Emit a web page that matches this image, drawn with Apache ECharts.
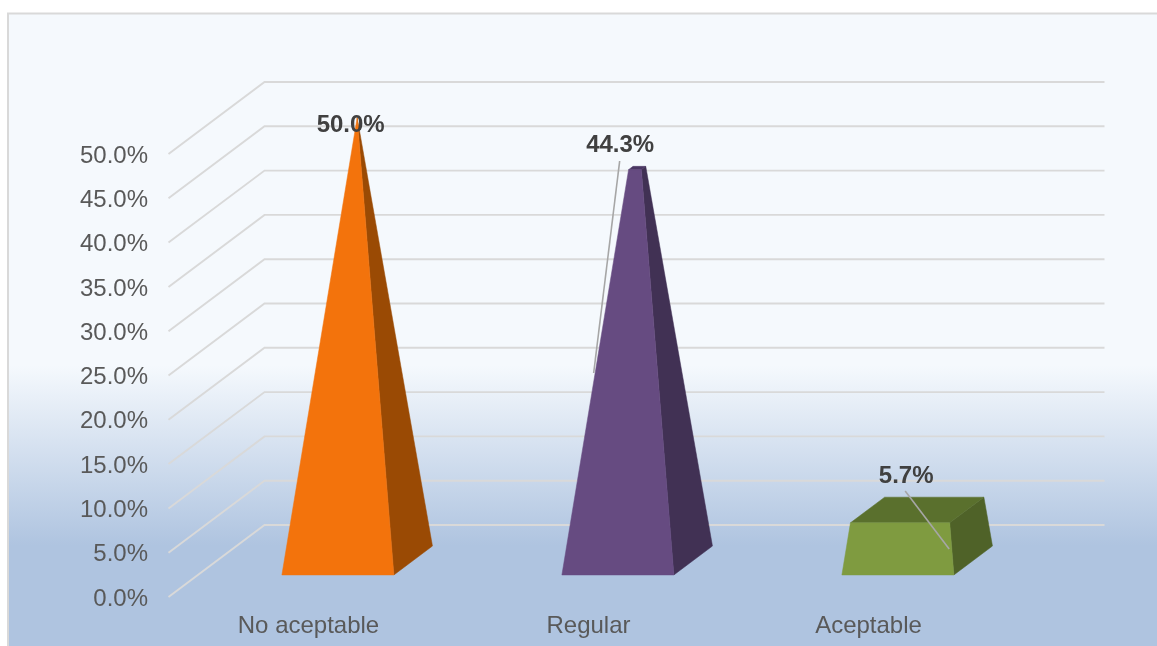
<!DOCTYPE html>
<html>
<head>
<meta charset="utf-8">
<style>
html,body{margin:0;padding:0;background:#fff;}
#main{width:1157px;height:646px;}
</style>
<script src="https://cdn.jsdelivr.net/npm/echarts@6/dist/echarts.min.js"></script>
</head>
<body>
<div id="main"></div>
<script>
var categories = ['No aceptable', 'Regular', 'Aceptable'];
var values = [50.0, 44.3, 5.7];
var ticks = [0, 5, 10, 15, 20, 25, 30, 35, 40, 45, 50];

var axisMax = 50;
var frontColors = ['#f3730c', '#664b81', '#7f9b40'];
var sideColors = ['#9a4a04', '#413154', '#4f6228'];
var topColors = ['#9a4a04', '#4a3763', '#5a702d'];

// depth of the box: wall goes back 96,-72, the bars stand on part of the floor
var depthX = 96, depthY = -72;
var barHalf = 56, barDepthMid = 0.507, barDepthHalf = 0.201;

// label centre and leader line, relative to the top of each bar
var labelOffset = [[-6.5, 8], [-17, -23], [-11, -34]];
var leaderFrom = [null, [-17.5, -7], [-12, -19]];
var leaderTo = [null, [-43.5, 205], [32, 39]];

var chart = echarts.init(document.getElementById('main'));

function renderWall(params, api) {
  var rect = params.coordSys;
  var y = api.coord([0, api.value(1)])[1];
  var x0 = rect.x, x1 = rect.x + depthX, x2 = rect.x + rect.width + depthX;
  return {
    type: 'polyline',
    shape: {points: [[x0, y], [x1, y + depthY], [x2, y + depthY]]},
    style: {fill: null, stroke: '#d9d9d9', lineWidth: 1.9}
  };
}

function renderBar(params, api) {
  var i = params.dataIndex;
  var v = api.value(1);
  var cx = api.coord([i, 0])[0];

  function pt(u, w, val) {
    var s = 1 - val / axisMax;
    var d = barDepthMid + w * barDepthHalf * s;
    return [cx + u * barHalf * s + d * depthX, api.coord([i, val])[1] + d * depthY];
  }
  function poly(points, color) {
    return {type: 'polygon', shape: {points: points}, style: {fill: color, stroke: color, lineWidth: 0.5}};
  }

  var topC = pt(0, 0, v);
  var kids = [
    poly([pt(1, -1, 0), pt(1, 1, 0), pt(1, 1, v), pt(1, -1, v)], sideColors[i]),
    poly([pt(-1, -1, v), pt(1, -1, v), pt(1, 1, v), pt(-1, 1, v)], topColors[i]),
    poly([pt(-1, -1, 0), pt(1, -1, 0), pt(1, -1, v), pt(-1, -1, v)], frontColors[i])
  ];
  if (leaderFrom[i]) {
    kids.push({
      type: 'line',
      shape: {
        x1: topC[0] + leaderFrom[i][0], y1: topC[1] + leaderFrom[i][1],
        x2: topC[0] + leaderTo[i][0], y2: topC[1] + leaderTo[i][1]
      },
      style: {stroke: '#a6a6a6', lineWidth: 1.6}
    });
  }
  kids.push({
    type: 'text',
    z2: 10,
    style: {
      x: topC[0] + labelOffset[i][0],
      y: topC[1] + labelOffset[i][1],
      text: v.toFixed(1) + '%',
      fill: '#404040',
      font: 'bold 24px "Liberation Sans", Arial, sans-serif',
      align: 'center',
      verticalAlign: 'middle'
    }
  });
  return {type: 'group', children: kids};
}

chart.setOption({
  animation: false,
  textStyle: {fontFamily: '"Liberation Sans", Arial, sans-serif'},
  graphic: [{
    type: 'rect',
    z: -10,
    silent: true,
    shape: {x: 8, y: 13.5, width: 1160, height: 640},
    style: {
      stroke: '#d9d9d9',
      lineWidth: 2,
      fill: {
        type: 'linear', x: 0, y: 0, x2: 0, y2: 1,
        colorStops: [
          {offset: 0, color: '#f5f9fd'},
          {offset: 0.55, color: '#f5f9fd'},
          {offset: 0.83, color: '#afc4e0'},
          {offset: 1, color: '#afc4e0'}
        ]
      }
    }
  }],
  grid: {left: 168.5, top: 154, width: 840, height: 443},
  xAxis: {
    type: 'category',
    data: categories,
    axisLine: {show: false},
    axisTick: {show: false},
    axisLabel: {color: '#595959', fontSize: 24, margin: 17}
  },
  yAxis: {
    type: 'value',
    min: 0,
    max: axisMax,
    interval: 5,
    splitLine: {show: false},
    axisLine: {show: false},
    axisTick: {show: false},
    axisLabel: {
      color: '#595959',
      fontSize: 24,
      margin: 20.5,
      verticalAlign: 'top',
      lineHeight: 4,
      formatter: function (val) { return val.toFixed(1) + '%'; }
    }
  },
  series: [{
    type: 'custom',
    silent: true,
    z: 1,
    renderItem: renderWall,
    data: ticks.map(function (t) { return [0, t]; })
  }, {
    type: 'custom',
    z: 2,
    renderItem: renderBar,
    data: values.map(function (v, i) { return [i, v]; })
  }]
});
</script>
</body>
</html>
